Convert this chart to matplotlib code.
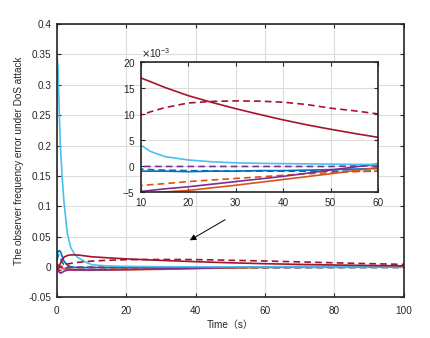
import matplotlib
matplotlib.use("Agg")
import matplotlib.pyplot as plt
from matplotlib.ticker import ScalarFormatter

# ---------------- data ----------------
t = [0, 0.3, 0.6, 1, 1.5, 2, 3, 4, 5, 6, 8, 10, 12, 15, 20, 25, 30, 35, 40,
     45, 50, 55, 60, 70, 80, 90, 100]

lightblue_solid = [0.35, 0.33, 0.27, 0.20, 0.15, 0.11, 0.055, 0.032, 0.022, 0.016,
                   0.009, 0.0040, 0.0028, 0.0018, 0.00115, 0.0008, 0.0006, 0.0005,
                   0.00045, 0.0004, 0.00035, 0.0003, 0.0003, 0.00025, 0.0002,
                   0.00015, 0.0001]
blue_solid = [0.02, 0.024, 0.027, 0.026, 0.018, 0.010, 0.003, 0.0005, -0.0008, -0.001,
              -0.001, -0.0010, -0.0010, -0.0010, -0.0011, -0.0010, -0.0010, -0.0009,
              -0.0009, -0.0008, -0.0007, -0.0006, -0.0005, -0.0004, -0.0003,
              -0.0002, -0.0002]
blue_dashed = [0.01, 0.018, 0.020, 0.015, 0.008, 0.004, 0.001, 0.0, -0.0005, -0.0006,
               -0.0006, -0.0006, -0.0007, -0.0008, -0.0009, -0.00095, -0.00095, -0.001,
               -0.001, -0.001, -0.001, -0.001, -0.001, -0.0009, -0.0009, -0.0008,
               -0.0008]
red_solid = [0.0, -0.003, 0.0, 0.006, 0.012, 0.016, 0.019, 0.020, 0.020, 0.0198,
             0.0185, 0.0169, 0.0162, 0.0151, 0.0135, 0.0122, 0.0110, 0.0099, 0.00885,
             0.0079, 0.00705, 0.00625, 0.0055, 0.0044, 0.0034, 0.0026, 0.0020]
red_dashed = [0.0, -0.002, -0.001, 0.0, 0.0015, 0.003, 0.005, 0.006, 0.007, 0.0077,
              0.0088, 0.0098, 0.0104, 0.0112, 0.0121, 0.0124, 0.0125, 0.01245, 0.01225,
              0.0118, 0.0111, 0.0106, 0.0100, 0.0085, 0.0070, 0.0056, 0.0044]
purple_solid = [0.0, -0.004, -0.008, -0.010, -0.009, -0.007, -0.005, -0.0045, -0.0045,
                -0.0047, -0.0048, -0.0049, -0.0047, -0.0044, -0.0040, -0.0035, -0.0030,
                -0.0025, -0.0020, -0.0014, -0.0008, -0.0002, 0.0004, 0.0008, 0.0008,
                0.0006, 0.0004]
purple_dashed = [0.0, -0.003, -0.005, -0.006, -0.004, -0.002, -0.001, -0.0004, -0.0003,
                 -0.0002, -0.0002, -0.0001, -0.0001, -0.0001, -0.0001, -0.0001, -0.0001,
                 -0.0001, -0.0001, -0.0001, -0.0001, 0.0, 0.0, 0.0, 0.0, 0.0, 0.0]
orange_solid = [0.005, 0.004, 0.002, 0.0, -0.002, -0.003, -0.004, -0.005, -0.0052,
                -0.0053, -0.0053, -0.0053, -0.0052, -0.0050, -0.0047, -0.0042, -0.0037,
                -0.00315, -0.0026, -0.00205, -0.0015, -0.0009, -0.0003, 0.0003, 0.0005,
                0.0004, 0.0003]
orange_dashed = [0.003, 0.003, 0.002, 0.0005, -0.001, -0.002, -0.003, -0.0035, -0.0038,
                 -0.0039, -0.0039, -0.0038, -0.0036, -0.0034, -0.0030, -0.0027, -0.0024,
                 -0.0021, -0.0018, -0.0015, -0.0013, -0.0011, -0.0010, -0.0008, -0.0006,
                 -0.0005, -0.0004]

series = [
    (blue_solid, "#0072BD", "-"),
    (blue_dashed, "#0072BD", "--"),
    (orange_solid, "#D95319", "-"),
    (orange_dashed, "#D95319", "--"),
    (purple_solid, "#7E2F8E", "-"),
    (purple_dashed, "#7E2F8E", "--"),
    (lightblue_solid, "#4DBEEE", "-"),
    (red_solid, "#A2142F", "-"),
    (red_dashed, "#A2142F", "--"),
]

main_xticks = [0, 20, 40, 60, 80, 100]
main_yticks = [-0.05, 0, 0.05, 0.1, 0.15, 0.2, 0.25, 0.3, 0.35, 0.4]
main_ylabels = ["-0.05", "0", "0.05", "0.1", "0.15", "0.2", "0.25", "0.3", "0.35", "0.4"]
inset_xticks = [10, 20, 30, 40, 50, 60]
inset_yticks = [-0.005, 0, 0.005, 0.01, 0.015, 0.02]

TXT = "#262626"

# ---------------- figure ----------------
plt.rcParams['font.family'] = ['Liberation Sans', 'Noto Sans CJK SC', 'DejaVu Sans']
plt.rcParams['axes.unicode_minus'] = False
fig = plt.figure(figsize=(4.31, 3.38), dpi=100)
fig.patch.set_facecolor("white")


def draw(a):
    for y, c, ls in series:
        if ls == "--":
            a.plot(t, y, color=c, ls="--", lw=1.2, dashes=(4, 2.5))
        else:
            a.plot(t, y, color=c, ls="-", lw=1.2)


ax = fig.add_axes([0.132, 0.12, 0.805, 0.809])
draw(ax)
ax.set_xlim(0, 100)
ax.set_ylim(-0.05, 0.4)
ax.set_xticks(main_xticks)
ax.set_yticks(main_yticks)
ax.set_yticklabels(main_ylabels)
ax.grid(True, color="#dcdcdc", lw=0.8)
ax.tick_params(direction="in", length=3, width=0.8, labelsize=7.2, top=True, right=True,
               colors=TXT, labelcolor=TXT)
ax.tick_params(axis="x", pad=6)
ax.tick_params(axis="y", pad=4)
for s in ax.spines.values():
    s.set_linewidth(1.2)
    s.set_color(TXT)
ax.set_xlabel("Time（s）", fontsize=7.2, labelpad=3, color=TXT)
ax.set_ylabel("The observer frequency error under DoS attack", fontsize=7.2, labelpad=3,
              color=TXT)

ax.annotate("", xy=(38.3, 0.044), xytext=(48.5, 0.078),
            arrowprops=dict(arrowstyle="-|>", color="black", lw=0.7,
                            mutation_scale=9, shrinkA=0, shrinkB=0))

# ---------------- inset ----------------
ins = fig.add_axes([0.327, 0.432, 0.55, 0.385])
ins.set_facecolor("white")
draw(ins)
ins.set_xlim(10, 60)
ins.set_ylim(-0.005, 0.02)
ins.set_xticks(inset_xticks)
ins.set_yticks(inset_yticks)
fmt = ScalarFormatter(useMathText=True)
fmt.set_powerlimits((-3, -3))
ins.yaxis.set_major_formatter(fmt)
ins.yaxis.get_offset_text().set_fontsize(7.2)
ins.yaxis.get_offset_text().set_color(TXT)
ins.grid(True, color="#dcdcdc", lw=0.8)
ins.tick_params(direction="in", length=3, width=0.8, labelsize=7.2, top=True, right=True,
                colors=TXT, labelcolor=TXT, pad=4)
for s in ins.spines.values():
    s.set_linewidth(1.2)
    s.set_color(TXT)

fig.savefig("out.png", dpi=100)
